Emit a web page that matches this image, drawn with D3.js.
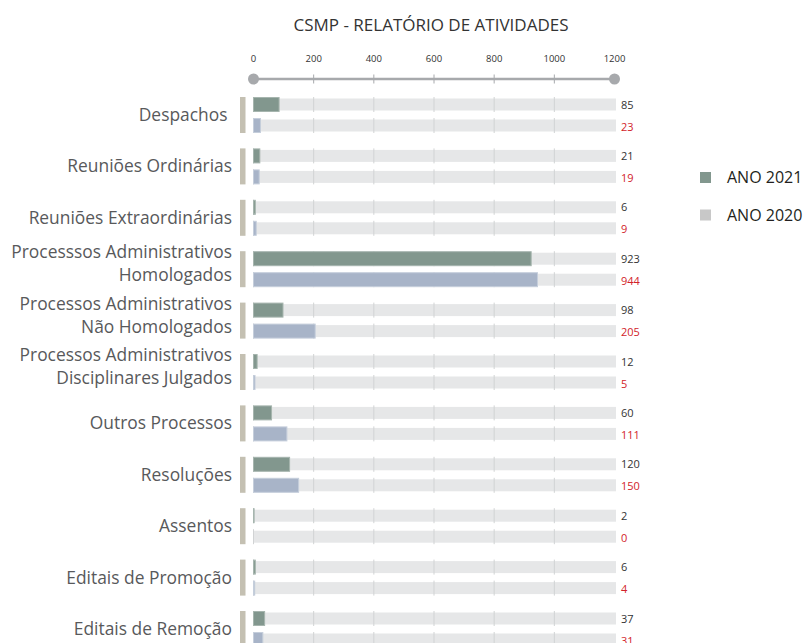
<!DOCTYPE html>
<html>
<head>
<meta charset="utf-8">
<script src="https://cdn.jsdelivr.net/npm/d3@7"></script>
<style>
  body { margin: 0; background: #fff; }
  svg { display: block; font-family: "Open Sans", sans-serif; }
</style>
</head>
<body>
<svg id="chart"></svg>
<script>
var width = 808;
var height = 643;

var categories = [
  ["Despachos\u00a0"],
  ["Reuniões Ordinárias"],
  ["Reuniões Extraordinárias"],
  ["Processsos Administrativos", "Homologados"],
  ["Processos Administrativos", "Não Homologados"],
  ["Processos Administrativos", "Disciplinares Julgados"],
  ["Outros Processos"],
  ["Resoluções"],
  ["Assentos"],
  ["Editais de Promoção"],
  ["Editais de Remoção"]
];
var values2021 = [85, 21, 6, 923, 98, 12, 60, 120, 2, 6, 37];
var values2020 = [23, 19, 9, 944, 205, 5, 111, 150, 0, 4, 31];
var tickValues = [0, 200, 400, 600, 800, 1000, 1200];
var seriesNames = ["ANO 2021", "ANO 2020"];

var green = '#82978e';
var blue = '#a8b4c8';
var legendColors = [green, '#c8c8c8'];

var svg = d3.select('#chart').attr('width', width).attr('height', height);

var xScale = d3.scaleLinear().domain([0, 1200]).range([253.5, 614.5]);

var groupTop = 97;
var groupStep = 51.4;
var barH = 15;
var barGap = 21;

function rowY(i){ return groupTop + i * groupStep; }

// title
svg.append('text')
  .attr('x', 431)
  .attr('y', 31)
  .attr('text-anchor', 'middle')
  .style('font-size', '17px')
  .style('fill', '#333')
  .text('CSMP - RELATÓRIO DE ATIVIDADES');

// top axis
var axisY = 79;
var axisG = svg.append('g')
  .attr('transform', `translate(0, ${axisY})`);

axisG.append('line')
  .attr('x1', xScale(0)).attr('x2', xScale(1200))
  .attr('stroke', '#a7a9ac')
  .attr('stroke-width', 2.6);

axisG.selectAll('line.tick')
  .data(tickValues.slice(1, -1))
  .enter().append('line')
    .attr('class', 'tick')
    .attr('x1', d => xScale(d)).attr('x2', d => xScale(d))
    .attr('y1', -4.5).attr('y2', 4.5)
    .attr('stroke', '#a7a9ac')
    .attr('stroke-width', 1);

axisG.selectAll('circle')
  .data([0, 1200])
  .enter().append('circle')
    .attr('cx', d => xScale(d))
    .attr('r', 5.5)
    .attr('fill', '#a7a9ac');

axisG.selectAll('text')
  .data(tickValues)
  .enter().append('text')
    .attr('x', d => xScale(d))
    .attr('y', -17.5)
    .attr('text-anchor', 'middle')
    .style('font-size', '9.5px')
    .style('fill', '#333')
    .text(d => d);

// rows
var rows = svg.selectAll('g.row')
  .data(categories.map(function(c, i){
    return { label: c, v21: values2021[i], v20: values2020[i], i: i };
  }))
  .enter().append('g')
    .attr('class', 'row')
    .attr('transform', d => `translate(0, ${rowY(d.i)})`);

// beige marker
rows.append('rect')
  .attr('x', 240).attr('y', 0)
  .attr('width', 5.5).attr('height', barGap + barH)
  .attr('fill', '#c4c0b2');

[0, 1].forEach(function(k){
  var y0 = k * barGap;
  var key = k === 0 ? 'v21' : 'v20';
  var fill = k === 0 ? green : blue;
  var stroke = k === 0 ? '#a6b5ae' : '#c5cedb';

  // background track
  rows.append('rect')
    .attr('x', xScale(0)).attr('y', y0 + 1.5)
    .attr('width', xScale(1200) - xScale(0) + 1.5)
    .attr('height', barH - 3)
    .attr('fill', '#e6e7e8');

  // grid lines
  rows.selectAll('line.grid' + k)
    .data(tickValues.slice(0, -1))
    .enter().append('line')
      .attr('class', 'grid' + k)
      .attr('x1', d => xScale(d)).attr('x2', d => xScale(d))
      .attr('y1', y0).attr('y2', y0 + barH)
      .attr('stroke', '#d1d3d4')
      .attr('stroke-width', 1);

  // value bar
  rows.filter(d => d[key] > 0).append('rect')
    .attr('x', xScale(0)).attr('y', y0 + 0.5)
    .attr('width', d => xScale(d[key]) - xScale(0))
    .attr('height', barH - 1)
    .attr('fill', fill)
    .attr('stroke', stroke)
    .attr('stroke-width', 1);

  // value label
  rows.append('text')
    .attr('x', 621)
    .attr('y', y0 + barH / 2 + 4 + k)
    .style('font-size', '11px')
    .style('fill', k === 0 ? '#333' : '#d2232a')
    .text(d => d[key]);
});

// category labels
rows.each(function(d){
  var g = d3.select(this);
  var mid = (barGap + barH) / 2;
  var lines = d.label;
  var ys = lines.length === 1 ? [mid + 6] : [mid - 11, mid + 12];
  lines.forEach(function(t, j){
    g.append('text')
      .attr('x', 232)
      .attr('y', ys[j])
      .attr('text-anchor', 'end')
      .style('font-size', '17.4px')
      .style('fill', '#58595b')
      .text(t);
  });
});

// legend
var legend = svg.selectAll('g.legend')
  .data(seriesNames)
  .enter().append('g')
    .attr('class', 'legend')
    .attr('transform', (d, i) => `translate(700, ${172 + i * 37.5})`);

legend.append('rect')
  .attr('width', 11).attr('height', 11)
  .attr('fill', (d, i) => legendColors[i]);

legend.append('text')
  .attr('x', 27)
  .attr('y', 11)
  .style('font-size', '16px')
  .style('fill', '#231f20')
  .text(d => d);
</script>
</body>
</html>
